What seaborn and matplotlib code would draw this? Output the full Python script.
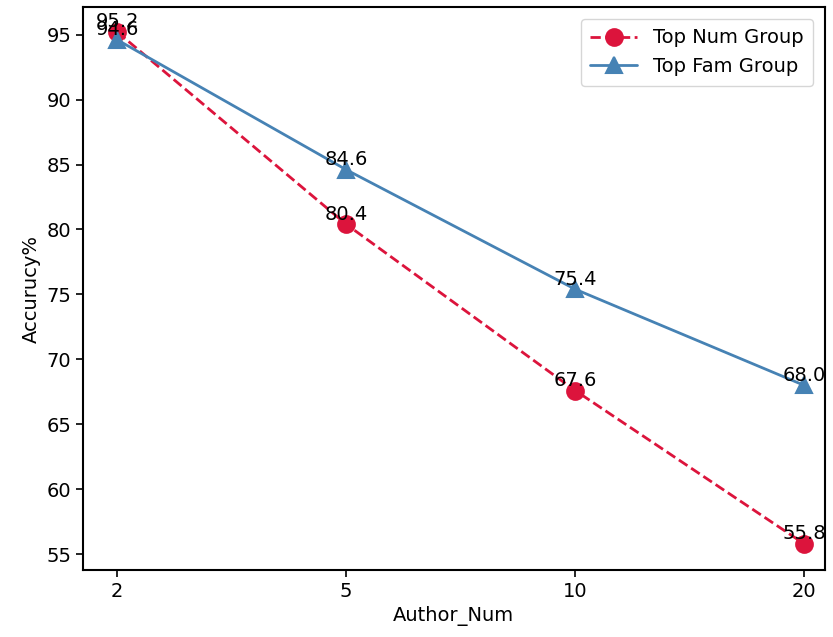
import pandas as pd
import seaborn as sns
from matplotlib import pyplot as plt

author_num = ["2", "5", "10", "20"]
top_num = [95.2, 80.4, 67.6, 55.8]
top_fam = [94.6, 84.6, 75.4, 68.0]
groups = ["Top Num Group", "Top Fam Group"]

df = pd.DataFrame({
    "Author_Num": author_num * 2,
    "Accuracy": top_num + top_fam,
    "Group": [groups[0]] * 4 + [groups[1]] * 4,
})

sns.set_style("ticks", {"axes.edgecolor": "black", "text.color": "black",
                        "axes.labelcolor": "black", "xtick.color": "black",
                        "ytick.color": "black"})
plt.rcParams["font.family"] = ["DejaVu Sans"]

fig = plt.figure(figsize=(8.33, 6.37), dpi=100)
ax = fig.add_axes([0.0996, 0.105, 0.8904, 0.884])

sns.pointplot(data=df, x="Author_Num", y="Accuracy", hue="Group",
              order=author_num, hue_order=groups,
              palette={groups[0]: "#dc143c", groups[1]: "#4682b4"},
              markers=["o", "^"], linestyles=["--", "-"],
              markersize=12, linewidth=2, ax=ax)

for vals in (top_num, top_fam):
    for i, v in enumerate(vals):
        ax.text(i, v + 0.05, f"{v:.1f}", ha="center", va="bottom",
                fontsize=14, color="black")

ax.set_xlim(-0.15, 3.09)
ax.set_ylim(53.77, 97.13)
ax.set_yticks([55, 60, 65, 70, 75, 80, 85, 90, 95])
ax.set_xlabel("Author_Num", fontsize=14)
ax.set_ylabel("Accurucy%", fontsize=14)
ax.tick_params(labelsize=14, width=1.2, length=5)
for s in ax.spines.values():
    s.set_linewidth(1.5)

ax.legend(loc="upper right", fontsize=14, handlelength=2.4, borderpad=0.5,
          borderaxespad=0.6)

fig.savefig("out.png", dpi=100)
